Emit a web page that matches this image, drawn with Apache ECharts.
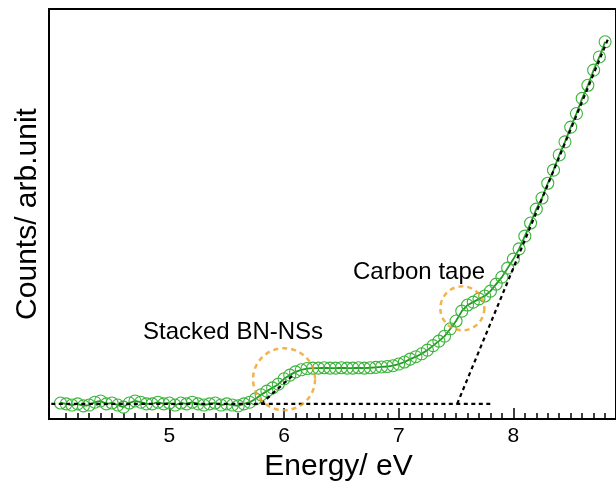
<!DOCTYPE html>
<html>
<head>
<meta charset="utf-8">
<script src="https://cdn.jsdelivr.net/npm/echarts@6/dist/echarts.min.js"></script>
<style>
  html, body { margin: 0; padding: 0; background: #fff; }
  #main { width: 616px; height: 488px; }
</style>
</head>
<body>
<div id="main"></div>
<script>
// measured spectrum, x in eV (step 0.05 from 4.05), y in arb. units
var energy = [];
for (var k = 81; k <= 176; k++) energy.push(k / 20);

var counts = [
  3.9, 3.7, 3.4, 3.7, 3.2, 3.4, 4.1, 4.4, 3.7, 3.9,
  3.4, 2.9, 3.9, 4.4, 4.1, 3.7, 3.7, 4.1, 3.7, 3.9,
  3.4, 3.9, 3.7, 4.1, 3.7, 3.4, 3.7, 3.9, 3.4, 3.7,
  3.4, 3.2, 3.7, 4.1, 4.9, 5.9, 6.8, 7.6, 8.5, 9.8,
  10.7, 11.5, 12.0, 12.3, 12.4, 12.4, 12.5, 12.4, 12.4, 12.5,
  12.4, 12.4, 12.5, 12.4, 12.5, 12.6, 12.7, 12.8, 13.0, 13.4,
  13.9, 14.6, 15.2, 15.9, 16.8, 17.9, 19.0, 20.2, 22.0, 23.9,
  26.3, 27.8, 28.5, 29.3, 30.0, 31.2, 32.9, 34.6, 36.8, 39.0,
  41.5, 44.6, 47.8, 51.2, 53.9, 57.5, 60.7, 64.4, 67.6, 71.2,
  74.5, 78.2, 81.4, 85.1, 88.3, 92.0
];

// fitted guide lines
var baseLine = [[3.97, 3.7], [7.8, 3.7]];
var bnOnset = [[5.8, 3.7], [6.07, 10.5]];
var tapeOnset = [[7.51, 3.7], [8.83, 93.0]];

// highlighted regions
var rings = [[6.0, 9.7, 62], [7.555, 27.0, 44]];

var majorTicks = [5, 6, 7, 8];
var minorTicks = [];
for (var t = 41; t <= 88; t++) {
  if (t % 10 !== 0) minorTicks.push(t / 10);
}

var font = 'Liberation Sans, Arial, sans-serif';

var chart = echarts.init(document.getElementById('main'));

function dashed(data) {
  return {
    type: 'line',
    data: data,
    symbol: 'none',
    z: 5,
    silent: true,
    lineStyle: { color: '#000', width: 2.2, type: [4, 3.5] }
  };
}

var option = {
  animation: false,
  grid: {
    left: 49, right: -4, top: 9, bottom: 69,
    show: true, borderColor: '#000', borderWidth: 2,
    backgroundColor: 'transparent'
  },
  xAxis: [
    {
      type: 'value', min: 3.95, max: 8.895, position: 'bottom', offset: 0,
      name: 'Energy/ eV', nameLocation: 'middle', nameGap: 30,
      nameTextStyle: { fontSize: 30, color: '#000', fontFamily: font, padding: [0, 0, 0, 12] },
      axisLine: { show: false },
      splitLine: { show: false },
      axisTick: { inside: true, length: 11, customValues: majorTicks,
        lineStyle: { color: '#000', width: 1.5 } },
      axisLabel: { customValues: majorTicks, fontSize: 21, color: '#000',
        fontFamily: font, margin: 7 }
    },
    {
      type: 'value', min: 3.95, max: 8.895, position: 'bottom', offset: 0,
      axisLine: { show: false },
      splitLine: { show: false },
      axisLabel: { show: false },
      axisTick: { inside: true, length: 6, customValues: minorTicks,
        lineStyle: { color: '#000', width: 1.5 } }
    }
  ],
  yAxis: {
    type: 'value', min: 0, max: 100,
    name: 'Counts/ arb.unit', nameLocation: 'middle', nameGap: 6,
    nameTextStyle: { fontSize: 30, color: '#000', fontFamily: font },
    axisLine: { show: false },
    axisTick: { show: false },
    axisLabel: { show: false },
    splitLine: { show: false }
  },
  graphic: [
    { type: 'text', left: 143, top: 320,
      style: { text: 'Stacked BN-NSs', fontSize: 24, fill: '#000', fontFamily: font } },
    { type: 'text', left: 353, top: 260,
      style: { text: 'Carbon tape', fontSize: 24, fill: '#000', fontFamily: font } }
  ],
  series: [
    {
      type: 'line',
      data: energy.map(function (x, i) { return [x, counts[i]]; }),
      symbol: 'circle',
      symbolSize: 12,
      z: 3,
      itemStyle: { color: 'rgba(0,0,0,0)', borderColor: '#3cb43c', borderWidth: 1.1 },
      lineStyle: { color: '#1f9a1f', width: 1.8 },
      emphasis: { disabled: true }
    },
    dashed(baseLine),
    dashed(bnOnset),
    dashed(tapeOnset),
    {
      type: 'scatter',
      data: rings,
      symbol: 'circle',
      symbolSize: function (v) { return v[2]; },
      z: 6,
      silent: true,
      itemStyle: { color: 'transparent', borderColor: '#f0a020', borderWidth: 2.5,
        borderType: [5, 4] }
    }
  ]
};

chart.setOption(option);
</script>
</body>
</html>
